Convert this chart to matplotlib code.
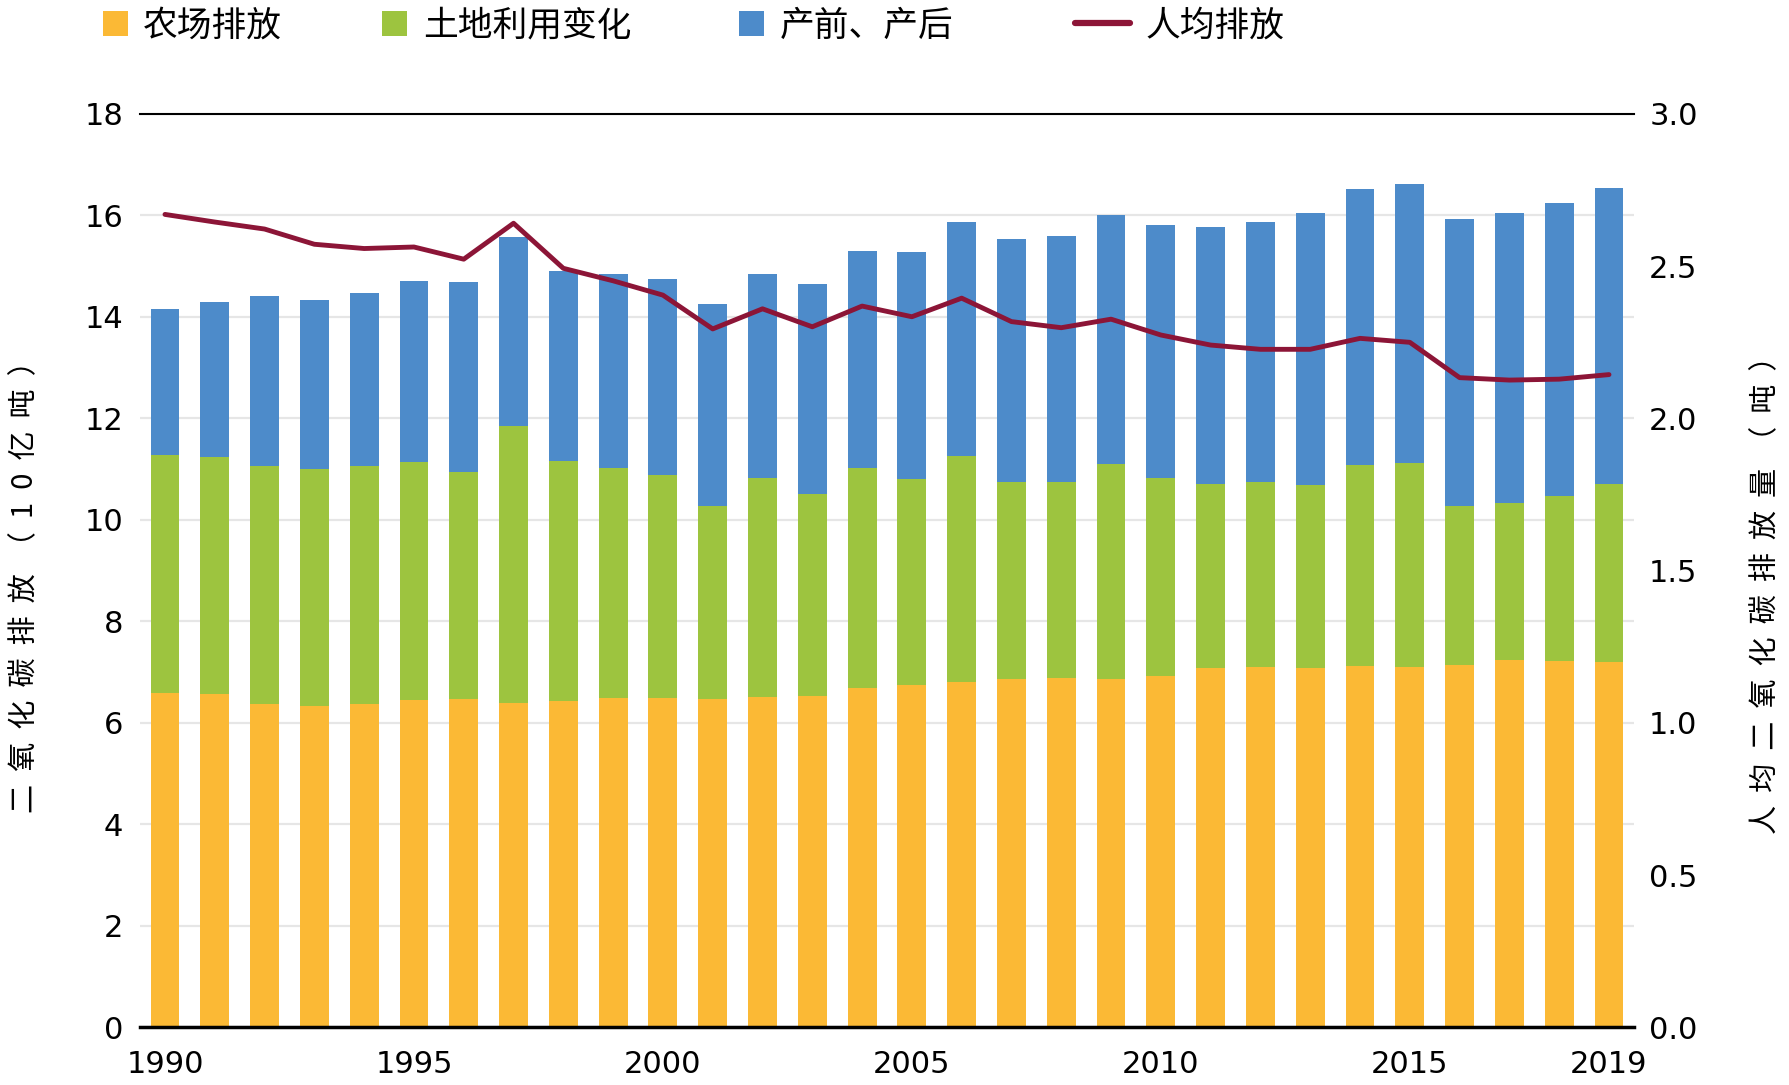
import matplotlib
matplotlib.use('Agg')
import matplotlib.pyplot as plt
import numpy as np
from matplotlib.patches import Patch
from matplotlib.lines import Line2D

years = list(range(1990, 2020))
farm = [6.60, 6.58, 6.38, 6.33, 6.38, 6.46, 6.47, 6.40, 6.44, 6.50,
        6.49, 6.48, 6.51, 6.53, 6.68, 6.74, 6.81, 6.87, 6.89, 6.87,
        6.93, 7.08, 7.10, 7.08, 7.12, 7.10, 7.14, 7.24, 7.22, 7.20]
land_use = [4.67, 4.67, 4.68, 4.67, 4.68, 4.68, 4.47, 5.46, 4.72, 4.52,
            4.40, 3.80, 4.32, 3.98, 4.35, 4.07, 4.45, 3.88, 3.85, 4.23,
            3.89, 3.63, 3.64, 3.61, 3.96, 4.02, 3.14, 3.09, 3.25, 3.51]
pre_post = [2.88, 3.05, 3.35, 3.33, 3.41, 3.57, 3.74, 3.72, 3.75, 3.82,
            3.86, 3.98, 4.01, 4.14, 4.26, 4.46, 4.61, 4.78, 4.85, 4.90,
            4.99, 5.06, 5.13, 5.36, 5.45, 5.49, 5.64, 5.71, 5.78, 5.83]
per_capita = [2.67, 2.645, 2.622, 2.572, 2.558, 2.563, 2.523, 2.641, 2.493, 2.452,
              2.405, 2.294, 2.360, 2.301, 2.369, 2.334, 2.395, 2.318, 2.298, 2.326,
              2.274, 2.241, 2.227, 2.227, 2.263, 2.250, 2.134, 2.126, 2.129, 2.144]
xtick_years = [1990, 1995, 2000, 2005, 2010, 2015, 2019]
left_ticks = [0, 2, 4, 6, 8, 10, 12, 14, 16, 18]
right_ticks = [0.0, 0.5, 1.0, 1.5, 2.0, 2.5, 3.0]
series_labels = ['农场排放', '土地利用变化', '产前、产后', '人均排放']
left_ylabel = '二  氧  化  碳  排  放  （  1  0  亿  吨  ）'
right_ylabel = '人  均  二  氧  化  碳  排  放  量  （  吨  ）'

c_farm = '#FBB935'
c_land = '#9DC43F'
c_pre = '#4D8BCA'
c_line = '#8C1537'

NUM_FONT = ['DejaVu Sans']
CJK_FONT = ['Noto Sans CJK SC', 'DejaVu Sans']
plt.rcParams['font.family'] = CJK_FONT

fig = plt.figure(figsize=(17.89, 10.85), dpi=100)
ax = fig.add_axes([0.0783, 0.053, 0.835, 0.842])

x = np.arange(len(years))
w = 0.58
farm_a = np.array(farm)
land_a = np.array(land_use)
ax.bar(x, farm_a, w, color=c_farm, zorder=2)
ax.bar(x, land_a, w, bottom=farm_a, color=c_land, zorder=2)
ax.bar(x, pre_post, w, bottom=farm_a + land_a, color=c_pre, zorder=2)

ax.set_xlim(-0.5, len(years) - 0.5)
ax.set_ylim(0, 18)
ax.set_yticks(left_ticks)
ax.set_yticklabels([str(v) for v in left_ticks], fontfamily=NUM_FONT, fontsize=22)
ax.yaxis.grid(True, color='#e6e6e6', lw=1.6, zorder=0)
ax.set_axisbelow(True)
tick_idx = [years.index(y) for y in xtick_years]
ax.set_xticks(tick_idx)
ax.set_xticklabels([str(y) for y in xtick_years], fontfamily=NUM_FONT, fontsize=22)
ax.tick_params(axis='both', length=0)
ax.tick_params(axis='y', pad=12)
ax.tick_params(axis='x', pad=16)
for s in ['left', 'right']:
    ax.spines[s].set_visible(False)
ax.spines['top'].set_color('black')
ax.spines['top'].set_linewidth(1.5)
ax.spines['bottom'].set_color('black')
ax.spines['bottom'].set_linewidth(2.5)

ax2 = ax.twinx()
ax2.set_ylim(0, 3)
ax2.set_yticks(right_ticks)
ax2.set_yticklabels(['%.1f' % v for v in right_ticks], fontfamily=NUM_FONT, fontsize=22)
ax2.tick_params(axis='y', length=0, pad=11)
for s in ['left', 'right', 'top', 'bottom']:
    ax2.spines[s].set_visible(False)
ax2.plot(x, per_capita, color=c_line, lw=3.5, solid_joinstyle='round',
         solid_capstyle='round', zorder=5)

fig.text(0.014, 0.466, left_ylabel, fontsize=21, rotation=90, ha='center', va='center')
fig.text(0.987, 0.458, right_ylabel, fontsize=21, rotation=90, ha='center', va='center')

handles = [Patch(facecolor=c_farm), Patch(facecolor=c_land), Patch(facecolor=c_pre),
           Line2D([], [], color=c_line, lw=4.5, solid_capstyle='round')]
leg_x = [0.0574, 0.2136, 0.4133, 0.6008]
for i, (h, lab) in enumerate(zip(handles, series_labels)):
    is_line = isinstance(h, Line2D)
    fig.legend([h], [lab], loc='center left', bbox_to_anchor=(leg_x[i], 0.976),
               frameon=False, fontsize=25,
               handlelength=1.58 if is_line else 0.72,
               handleheight=0.72, handletextpad=0.45,
               borderpad=0, borderaxespad=0)

fig.savefig('out.png', dpi=100)
